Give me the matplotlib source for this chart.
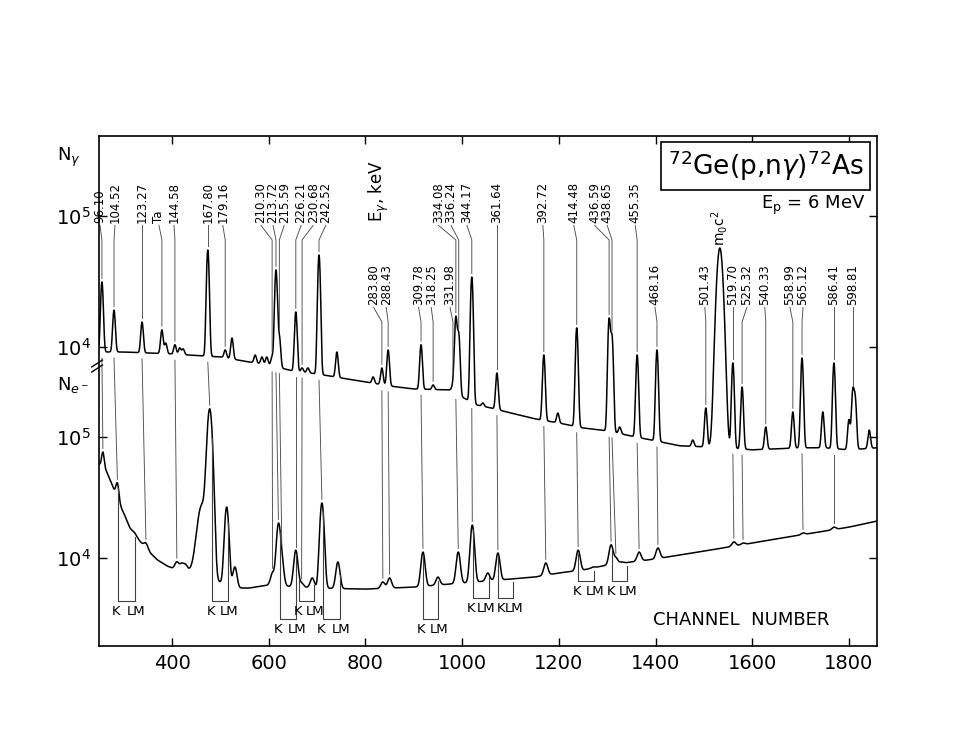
import numpy as np
import matplotlib.pyplot as plt

plt.rcParams["font.family"] = ["DejaVu Sans"]
plt.rcParams["mathtext.fontset"] = "dejavusans"

# --- gamma spectrum (upper trace), counts ---
gamma_bg_ch = [249, 300, 400, 500, 560, 600, 650, 700, 750, 800, 850, 900, 975, 1000, 1030, 1060,
               1100, 1150, 1200, 1250, 1300, 1350, 1400, 1450, 1500, 1550, 1600, 1650, 1700, 1750, 1800, 1858]
gamma_bg_counts = [9160, 9160, 8850, 8390, 7680, 7290, 6560, 6230, 5800, 5410, 5040, 4780, 4700, 4150, 3610, 3420,
                   3140, 2830, 2630, 2410, 2290, 2090, 1920, 1760, 1730, 1700, 1640, 1670, 1700, 1700, 1640, 1700]

gamma_peak_ch = [255, 280, 338, 379, 387, 406, 416, 423, 474, 510, 524, 572, 586, 596, 607, 615, 622, 656, 669,
                 681, 704, 741, 782, 816, 834, 847, 915, 940, 981, 987, 993, 1020, 1043, 1072, 1169, 1198, 1237,
                 1304, 1310, 1326, 1362, 1403, 1477, 1504, 1533, 1560, 1579, 1628, 1684, 1703, 1746, 1769, 1800,
                 1808, 1813, 1842]
gamma_peak_counts = [31300, 19100, 15500, 13500, 10700, 10400, 9830, 9660, 55000, 9500, 11700, 8690, 8390, 8390,
                     8390, 38700, 11900, 18500, 6920, 6920, 50300, 9160, 5310, 5910, 6920, 9490, 10400, 5130, 5130,
                     16700, 12300, 34200, 3740, 6330, 8690, 3130, 14000, 16100, 11700, 2450, 8690, 9490, 1950, 3420,
                     57000, 7550, 4950, 2450, 3190, 8240, 3190, 7550, 2780, 4530, 3940, 2320]

# --- conversion electron spectrum (lower trace) ---
e_bg_ch = [249, 257, 265, 272, 280, 292, 300, 313, 325, 340, 355, 370, 390, 410, 440, 530, 560, 600, 700, 800,
           900, 950, 1000, 1050, 1100, 1150, 1200, 1250, 1300, 1350, 1400, 1450, 1500, 1550, 1600, 1650, 1700,
           1750, 1800, 1858]
e_bg_counts = [59800, 57600, 51400, 44200, 36500, 27400, 23600, 17700, 15200, 12800, 11000, 9630, 8590, 7960,
               7810, 5650, 5650, 5980, 5650, 5530, 5750, 5980, 6210, 6450, 6700, 6960, 7520, 7960, 8750, 9270,
               9820, 10600, 11400, 12300, 13300, 14400, 15500, 16700, 18000, 20200]

e_peak_ch = [257, 287, 323, 346, 410, 420, 428, 462, 478, 513, 530, 608, 620, 627, 656, 668, 690, 710, 743, 836,
             850, 919, 950, 992, 1021, 1053, 1074, 1105, 1173, 1240, 1271, 1308, 1318, 1330, 1366, 1405, 1562,
             1581, 1705, 1769]
e_peak_counts = [75200, 41700, 16100, 13300, 9270, 8920, 8750, 27300, 167000, 26400, 8430, 7520, 18700, 9100,
                 11600, 6210, 6840, 28500, 9270, 6340, 6840, 11200, 6960, 11200, 18700, 7520, 11000, 6580, 9100,
                 11600, 8430, 12800, 10000, 9270, 11200, 12100, 13600, 13300, 16100, 18000]
e_peak_sigma = [2.5, 3, 4, 4, 4, 4, 4, 9, 5, 4, 4, 4, 4, 4, 4, 4, 4, 4, 4, 4,
                4, 4, 4, 4, 4, 4, 4, 4, 4, 4, 4, 4, 4, 4, 4, 4, 4, 4, 4, 4]

# --- gamma line labels: text, label channel, row, gamma peak channel, K electron channel ---
label_text = ["96.10", "104.52", "123.27", "Ta", "144.58", "167.80", "179.16", "210.30", "213.72", "215.59",
              "226.21", "230.68", "242.52", "334.08", "336.24", "344.17", "361.64", "392.72", "414.48", "436.59",
              "438.65", "455.35",
              "283.80", "288.43", "309.78", "318.25", "331.98", "468.16", "501.43", "519.70", "525.32", "540.33",
              "558.99", "565.12", "586.41", "598.81"]
label_ch = [251, 282, 338, 373, 404, 474, 505, 584, 609, 632, 667, 692, 718, 951, 977, 1010, 1072, 1167, 1231,
            1274, 1300, 1358,
            817, 843, 910, 936, 975, 1399, 1502, 1560, 1589, 1626, 1678, 1705, 1769, 1808]
label_row = [0] * 22 + [1] * 14
label_gamma_ch = [255, 280, 338, 379, 406, 474, 510, 607, 615, 622, 656, 669, 704, 987, 993, 1020, 1072, 1169,
                  1237, 1304, 1310, 1362,
                  834, 847, 915, 940, 981, 1403, 1504, 1560, 1579, 1628, 1684, 1703, 1769, 1808]
label_e_ch = [257, 287, 346, None, 410, 478, None, 608, 620, 627, 656, 668, 710, 992, None, 1021, 1074, 1173,
              1240, 1308, 1318, 1366,
              836, 850, 919, None, None, 1405, None, 1562, 1581, None, None, 1705, 1769, None]

# --- K / LM brackets under the electron trace ---
bracket_k = [288, 483, 623, 663, 712, 919, 1022, 1074, 1240, 1310]
bracket_lm = [323, 516, 656, 694, 747, 950, 1055, 1105, 1273, 1341]
bracket_level = [3.645, 3.645, 3.496, 3.645, 3.496, 3.496, 3.669, 3.669, 3.810, 3.810]

# gamma trace is shifted up on the plot and its decades are drawn a bit taller
UP_OFFSET = 5.744
UP_SCALE = 131 / 121
ROW_Y = [6.769, 6.091]
GAMMA_SIGMA = 2.5
ANNIHILATION_CH = 1533


def gamma_y(n):
    return UP_OFFSET + UP_SCALE * (np.log10(n) - 4)


def electron_y(n):
    return np.log10(n)


def background(ch, bg_ch, bg_counts):
    return 10 ** np.interp(ch, bg_ch, np.log10(bg_counts))


def spectrum(ch, bg_ch, bg_counts, peak_ch, peak_counts, sigmas):
    ch = np.atleast_1d(np.asarray(ch, dtype=float))
    total = background(ch, bg_ch, bg_counts)
    for c, n, s in zip(peak_ch, peak_counts, sigmas):
        amp = max(n - background(c, bg_ch, bg_counts), 0)
        total = total + amp * np.exp(-0.5 * ((ch - c) / s) ** 2)
    return total


gamma_sigma = [6.0 if c == ANNIHILATION_CH else GAMMA_SIGMA for c in gamma_peak_ch]


def gamma_at(c):
    return spectrum(c, gamma_bg_ch, gamma_bg_counts, gamma_peak_ch, gamma_peak_counts, gamma_sigma)[0]


def electron_at(c):
    return spectrum(c, e_bg_ch, e_bg_counts, e_peak_ch, e_peak_counts, e_peak_sigma)[0]


fig = plt.figure(figsize=(9.67, 7.55), dpi=100)
ax = fig.add_axes([0.1024, 0.1444, 0.8045, 0.6755])

ch = np.arange(249, 1858.5, 0.5)
g = spectrum(ch, gamma_bg_ch, gamma_bg_counts, gamma_peak_ch, gamma_peak_counts, gamma_sigma)
e = spectrum(ch, e_bg_ch, e_bg_counts, e_peak_ch, e_peak_counts, e_peak_sigma)
ax.plot(ch, gamma_y(g), color="black", lw=1.1)
ax.plot(ch, electron_y(e), color="black", lw=1.1)

lead_kw = dict(color="0.3", lw=0.65)
for txt, lch, row, gch, ech in zip(label_text, label_ch, label_row, label_gamma_ch, label_e_ch):
    yb = ROW_Y[row]
    ax.text(lch, yb, txt, rotation=90, ha="center", va="bottom", fontsize=8.5)
    y_peak = gamma_y(gamma_at(gch)) + 0.03
    if lch == gch:
        ax.plot([gch, gch], [yb - 0.02, y_peak], **lead_kw)
    else:
        ax.plot([lch, gch, gch], [yb - 0.02, yb - 0.14, y_peak], **lead_kw)
    if ech is not None:
        y0 = gamma_y(background(gch, gamma_bg_ch, gamma_bg_counts)) - 0.05
        y1 = electron_y(electron_at(ech)) + 0.03
        ax.plot([gch, ech], [y0, y1], **lead_kw)

# annihilation peak label
ax.text(ANNIHILATION_CH, gamma_y(gamma_at(ANNIHILATION_CH)) + 0.02, "m$_0$c$^2$", rotation=90,
        ha="center", va="bottom", fontsize=10)
ax.text(828, 6.777, r"E$_\gamma$, keV", rotation=90, ha="center", va="bottom", fontsize=12)

# K / LM brackets; squeeze the letters where two brackets sit close together
for i, (k, lm, lev) in enumerate(zip(bracket_k, bracket_lm, bracket_level)):
    yk = electron_y(electron_at(k)) - 0.03
    ylm = electron_y(electron_at(lm)) - 0.03
    ax.plot([k, k, lm, lm], [yk, lev, lev, ylm], color="0.25", lw=0.8)
    tight_after = i + 1 < len(bracket_k) and bracket_k[i + 1] - lm < 30 and bracket_level[i + 1] == lev
    tight_before = i > 0 and k - bracket_lm[i - 1] < 30 and bracket_level[i - 1] == lev
    k_x = k + 6 if tight_before else k - 3
    lm_x = lm - 6 if tight_after else lm + 2
    ax.text(k_x, lev - 0.03, "K", ha="center", va="top", fontsize=9.5)
    ax.text(lm_x, lev - 0.03, "LM", ha="center", va="top", fontsize=9.5)

ax.set_xlim(249, 1858)
ax.set_ylim(3.273, 7.488)
ax.set_xticks([400, 600, 800, 1000, 1200, 1400, 1600, 1800])
ax.set_yticks([4, 5, gamma_y(1e4), gamma_y(1e5)])
ax.set_yticklabels(["10$^4$", "10$^5$", "10$^4$", "10$^5$"])
ax.tick_params(direction="in", length=6, width=1.0, top=True, right=True, labelsize=14, pad=6)
for sp in ax.spines.values():
    sp.set_linewidth(1.2)

# axis break marks on the left
ax.plot([234, 256], [5.537, 5.595], color="black", lw=1.0, clip_on=False)
ax.plot([234, 256], [5.579, 5.636], color="black", lw=1.0, clip_on=False)

ax.text(0.857, 0.941, "$^{72}$Ge(p,n$\\gamma$)$^{72}$As", transform=ax.transAxes, ha="center", va="center",
        fontsize=19, bbox=dict(boxstyle="square,pad=0.25", facecolor="white", edgecolor="black", lw=1.2))
ax.text(0.985, 0.863, "E$_\\mathrm{p}$ = 6 MeV", transform=ax.transAxes, ha="right", va="center", fontsize=13)
ax.text(0.826, 0.051, "CHANNEL  NUMBER", transform=ax.transAxes, ha="center", va="center", fontsize=13)

fig.text(0.059, 0.791, "N$_\\gamma$", fontsize=13, ha="left", va="center")
fig.text(0.059, 0.49, "N$_{e^-}$", fontsize=13, ha="left", va="center")

fig.savefig("out.png", dpi=100)
